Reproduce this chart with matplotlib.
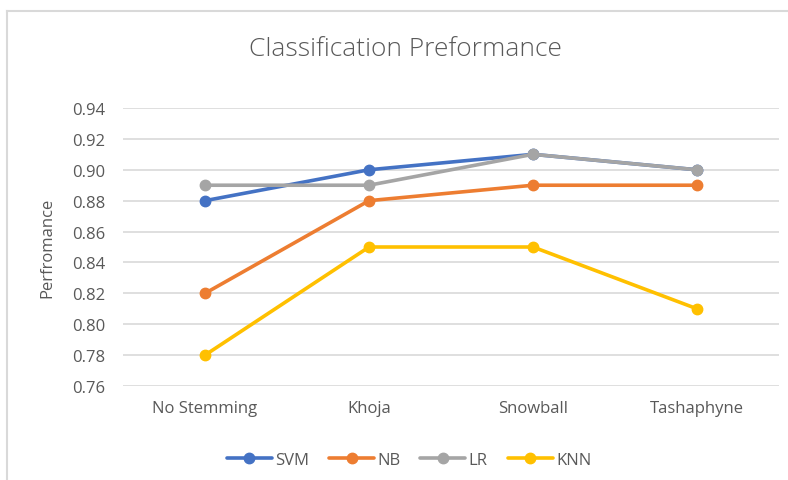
import matplotlib
matplotlib.use("Agg")
from matplotlib import pyplot as plt
from matplotlib.lines import Line2D

# data
categories = ["No Stemming", "Khoja", "Snowball", "Tashaphyne"]
svm = [0.88, 0.90, 0.91, 0.90]
nb = [0.82, 0.88, 0.89, 0.89]
lr = [0.89, 0.89, 0.91, 0.90]
knn = [0.78, 0.85, 0.85, 0.81]
yticks = [0.76, 0.78, 0.80, 0.82, 0.84, 0.86, 0.88, 0.90, 0.92, 0.94]

plt.rcParams['font.family'] = ['Open Sans', 'DejaVu Sans']
txt = '#595959'

fig = plt.figure(figsize=(7.88, 4.81), dpi=100)
ax = fig.add_axes([0.1561, 0.1954, 0.8325, 0.578])

x = range(len(categories))
series = [("SVM", svm, '#4472C4'), ("NB", nb, '#ED7D31'),
          ("LR", lr, '#A5A5A5'), ("KNN", knn, '#FFC000')]
for name, vals, col in series:
    ax.plot(x, vals, color=col, lw=2.6, marker='o', ms=7.5, label=name,
            solid_capstyle='round', zorder=3)

ax.set_xlim(-0.5, 3.5)
ax.set_ylim(0.76, 0.94)
ax.set_yticks(yticks)
ax.set_yticklabels([f"{v:.2f}" for v in yticks])
ax.set_xticks(list(x))
ax.set_xticklabels(categories)
ax.tick_params(length=0, colors=txt, labelsize=12)
ax.tick_params(axis='y', pad=13)
ax.tick_params(axis='x', pad=10)
ax.grid(axis='y', color='#D9D9D9', lw=1.2)
ax.set_axisbelow(True)
for s in ax.spines.values():
    s.set_visible(False)

ax.set_ylabel("Perfromance", color=txt, fontsize=12, labelpad=12)
fig.text(0.514, 0.897, "Classification Preformance", ha='center', va='center',
         fontsize=19, color=txt, fontweight='light')

leg = ax.legend(loc='center', bbox_to_anchor=(0.436, -0.265), ncol=4, frameon=False,
                fontsize=12, handlelength=2.7, handletextpad=0.2, columnspacing=1.2)
for t in leg.get_texts():
    t.set_color(txt)

# chart frame (left and top edges visible)
fig.add_artist(Line2D([0.009, 0.009], [0, 0.975], color='#D9D9D9', lw=1.5))
fig.add_artist(Line2D([0.009, 1.0], [0.975, 0.975], color='#D9D9D9', lw=1.5))

fig.savefig("out.png", dpi=100)
